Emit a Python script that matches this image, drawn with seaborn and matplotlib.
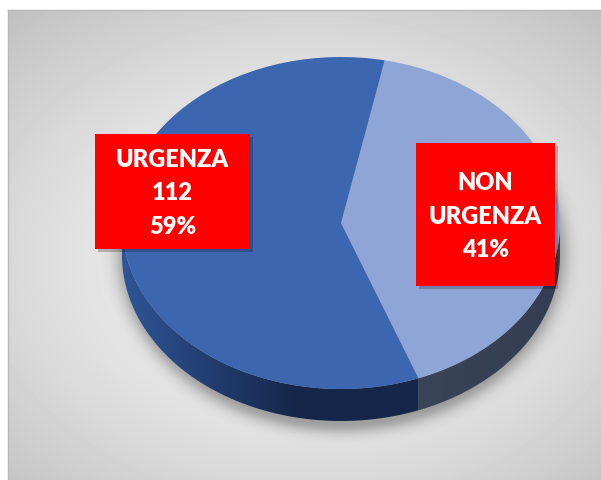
import numpy as np
import matplotlib
matplotlib.use("Agg")
import matplotlib.pyplot as plt
import seaborn as sns
from matplotlib.patches import Rectangle, Polygon
from matplotlib.colors import LinearSegmentedColormap

# ---- data ----
categories = ["NON URGENZA", "URGENZA"]
values = [78, 112]
label_texts = ["NON\nURGENZA\n41%", "URGENZA\n112\n59%"]
top_colors = ["#8fa5d6", "#3c66b0"]
side_grad = [["#3a4459", "#343d52"], ["#2f5596", "#15264a"]]

sns.set_theme(style="white")
plt.rcParams['font.family'] = ['Lato', 'DejaVu Sans']

W, H = 601, 481
fig = plt.figure(figsize=(W / 100, H / 100), dpi=100)
fig.patch.set_facecolor("white")

# ---- background panel with radial gradient ----
L, T = 8, 11
bg = fig.add_axes([L / W, 0, 1 - L / W, 1 - T / H])
gh, gw = H - T, W - L
yy, xx = np.mgrid[0:gh, 0:gw]
r = np.sqrt(((xx - 300) / 430) ** 2 + ((yy - 250) / 320) ** 2)
val = np.clip(0.955 - 0.19 * r ** 1.6, 0, 1)
bg.imshow(val, cmap="gray", vmin=0, vmax=1, aspect="auto", interpolation="bilinear")
bg.set_xticks([]); bg.set_yticks([])
for s in ["right", "bottom"]:
    bg.spines[s].set_visible(False)
for s in ["top", "left"]:
    bg.spines[s].set_color("#b8b8b8"); bg.spines[s].set_linewidth(1)

# ---- pie axes (pixel mapping) ----
ax = fig.add_axes([0, 0, 1, 1])
ax.patch.set_alpha(0)
cxp, cyp, ra, rb = 341, 224, 219, 166
xlim = ((0 - cxp) / ra, (W - cxp) / ra)
ylim = ((cyp - H) / rb, (cyp - 0) / rb)
depth = 32 / rb

# soft shadow
sy, sx = np.mgrid[0:H, 0:W]
sr = np.sqrt(((sx - 341) / 232) ** 2 + ((sy - 252) / 186) ** 2)
salpha = 0.3 * np.exp(-(np.clip(sr - 0.92, 0, None) / 0.06) ** 2)
shadow = np.zeros((H, W, 4))
shadow[..., 3] = salpha
ax.imshow(shadow, extent=(xlim[0], xlim[1], ylim[0], ylim[1]), aspect="auto",
          interpolation="bilinear", zorder=1)

start = 78.5
fracs = np.array(values) / np.sum(values)
# side walls
t0 = start
for i, f in enumerate(fracs):
    t1 = t0 - f * 360
    lo, hi = sorted([t1, t0])
    th = np.linspace(lo, hi, 400)
    th_n = np.mod(th, 360)
    vis = (th_n >= 180) & (th_n <= 360)
    if vis.any():
        tv = np.deg2rad(th[vis])
        xs = np.cos(tv); ys = np.sin(tv)
        pts = np.concatenate([np.c_[xs, ys], np.c_[xs[::-1], ys[::-1] - depth]])
        poly = Polygon(pts, closed=True, facecolor="none", edgecolor="none", zorder=2)
        ax.add_patch(poly)
        cmap = LinearSegmentedColormap.from_list("g%d" % i, side_grad[i])
        grad = np.linspace(0, 1, 256)[None, :]
        if i == 1:
            grad = np.clip(grad * 1.7, 0, 1)
        im = ax.imshow(grad, cmap=cmap, extent=(xs.min(), xs.max(), ys.min() - depth, ys.max()),
                       aspect="auto", zorder=2)
        im.set_clip_path(poly)
    t0 = t1

wedges, _ = ax.pie(values, colors=top_colors, startangle=start, counterclock=False,
                   wedgeprops=dict(linewidth=0, antialiased=True))
for w in wedges:
    w.set_zorder(3)
ax.set_aspect("auto")
ax.set_xlim(*xlim); ax.set_ylim(*ylim)
ax.axis("off")

# ---- labels in red boxes ----
boxes = [(416, 144, 555, 287), (95, 135, 250, 250)]
for (x0, y0, x1, y1), txt in zip(boxes, label_texts):
    fx0, fx1 = x0 / W, x1 / W
    fy0, fy1 = 1 - y1 / H, 1 - y0 / H
    fig.patches.append(Rectangle((fx0 + 3 / W, fy0 - 3 / H), fx1 - fx0, fy1 - fy0,
                                 transform=fig.transFigure, facecolor="black", alpha=0.22,
                                 edgecolor="none", zorder=5))
    fig.patches.append(Rectangle((fx0, fy0), fx1 - fx0, fy1 - fy0, transform=fig.transFigure,
                                 facecolor="#ff0000", edgecolor="none", zorder=6))
    fig.text((fx0 + fx1) / 2, (fy0 + fy1) / 2 - 1 / H, txt, ha="center", va="center",
             color="white", fontsize=17, fontweight="heavy", linespacing=1.65, zorder=7)

fig.savefig("out.png", dpi=100)
